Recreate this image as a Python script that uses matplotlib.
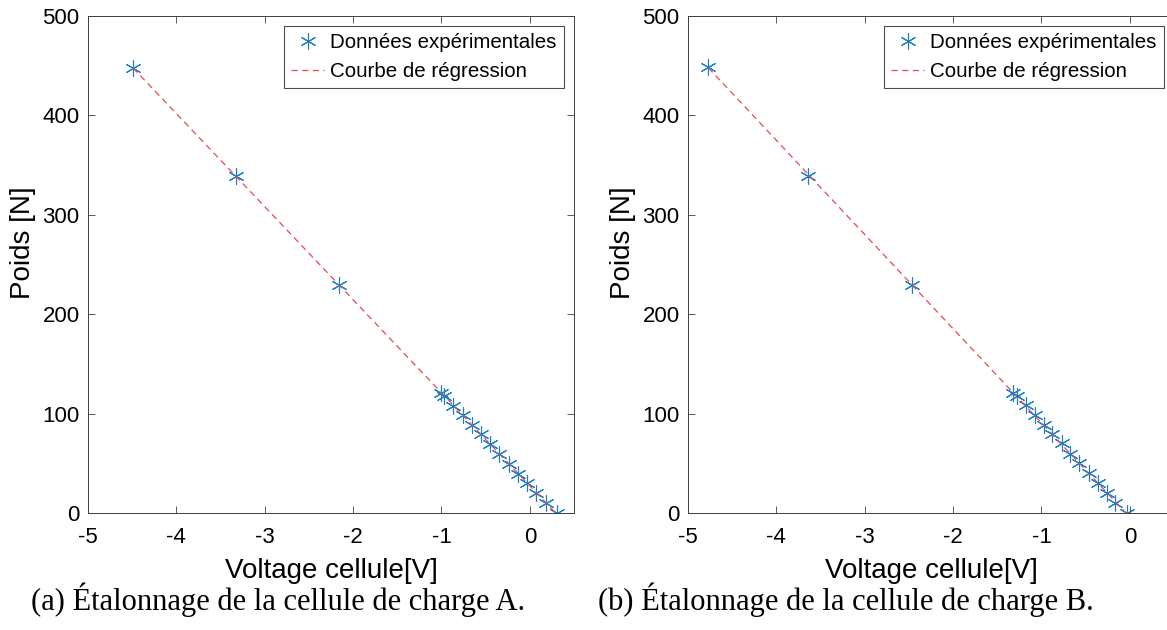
import numpy as np
import matplotlib
matplotlib.use("Agg")
from matplotlib import pyplot as plt

# load cell A
volt_a = [-4.49, -3.33, -2.16, -1.00, -0.966, -0.864, -0.759, -0.653, -0.551,
          -0.446, -0.345, -0.239, -0.133, -0.028, 0.073, 0.183, 0.31]
poids_a = [448, 339, 229, 121, 118, 108, 99, 89, 79, 69, 59, 49, 39, 30, 20, 10, 0]

# load cell B
volt_b = [-4.77, -3.64, -2.47, -1.323, -1.281, -1.18, -1.077, -0.972, -0.876,
          -0.771, -0.676, -0.574, -0.467, -0.365, -0.26, -0.167, -0.034]
poids_b = [449, 339, 229, 121, 118, 109, 99, 89, 79, 70, 59, 50, 40, 30, 20, 10, 0]

captions = ["(a) Étalonnage de la cellule de charge A.",
            "(b) Étalonnage de la cellule de charge B."]

plt.rcParams['font.family'] = ['Liberation Sans', 'DejaVu Sans']
plt.rcParams['axes.unicode_minus'] = False

fig = plt.figure(figsize=(11.67, 6.3), dpi=100)
W, H = 1167, 630

def panel(left, volt, poids, caption, cx):
    ax = fig.add_axes([left / W, (H - 513) / H, 486 / W, 497 / H])
    ax.plot(volt, poids, linestyle='none', marker=(6, 2, 0), markersize=11.5,
            markeredgewidth=0.8, color='#1a7fc4', label='Données expérimentales')
    k = np.polyfit(volt, poids, 1)
    xs = np.array([min(volt), max(volt)])
    ax.plot(xs, np.polyval(k, xs), '--', color='#e8474f', lw=0.9,
            dashes=(5, 3.5), label='Courbe de régression')
    ax.set_xlim(-5, 0.5)
    ax.set_ylim(0, 500)
    ax.set_xticks([-5, -4, -3, -2, -1, 0])
    ax.set_yticks([0, 100, 200, 300, 400, 500])
    ax.tick_params(direction='in', top=True, right=True, labelsize=16,
                   length=5, width=0.6, color='#404040', pad=6)
    ax.tick_params(axis='x', pad=10)
    for s in ax.spines.values():
        s.set_color('#404040')
        s.set_linewidth(0.7)
    ax.set_xlabel('Voltage cellule[V]', fontsize=20, labelpad=7)
    ax.set_ylabel('Poids [N]', fontsize=20)
    ax.yaxis.set_label_coords(-52 / 486, 0.543)
    leg = ax.legend(loc='upper right', fontsize=14.8, frameon=True, fancybox=False,
                    borderaxespad=0.5, handlelength=1.6, handletextpad=0.3,
                    borderpad=0.35, labelspacing=0.45)
    leg.get_frame().set_edgecolor('#202020')
    leg.get_frame().set_linewidth(0.8)
    fig.text(cx / W, 1 - 600 / H, caption, ha='center', va='center',
             fontsize=22, family='Liberation Serif')
    return ax

panel(88, volt_a, poids_a, captions[0], 278)
panel(688, volt_b, poids_b, captions[1], 846)

fig.savefig('out.png', dpi=100, facecolor='white')
